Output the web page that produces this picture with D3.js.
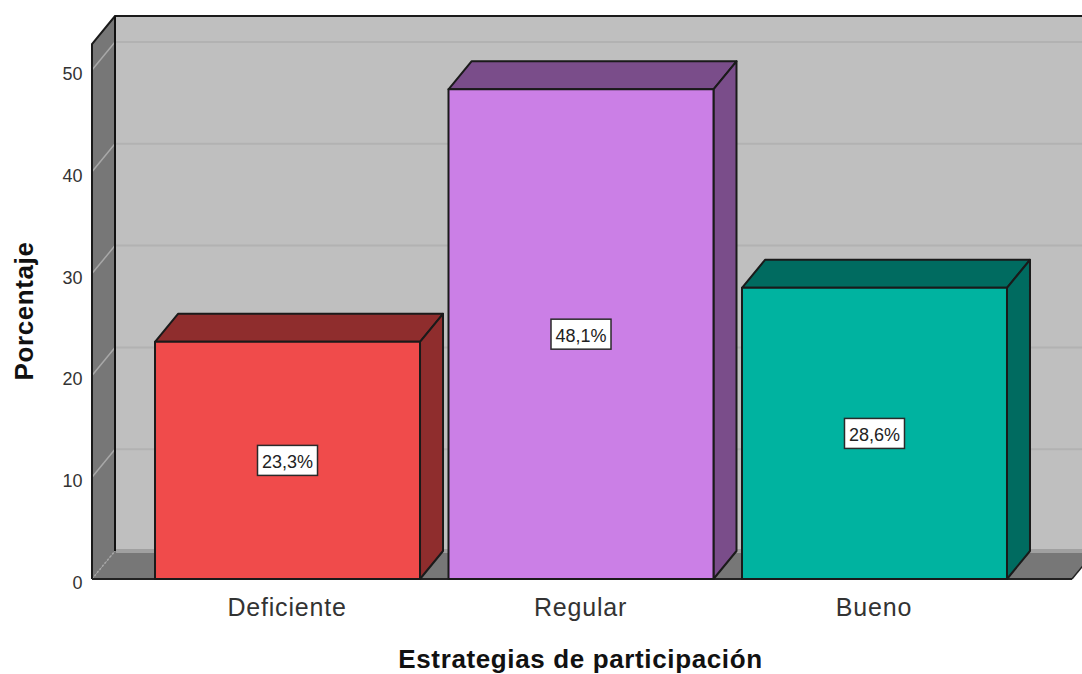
<!DOCTYPE html>
<html><head><meta charset="utf-8">
<script src="https://cdn.jsdelivr.net/npm/d3@7"></script>
<style>html,body{margin:0;padding:0;background:#fff}svg{display:block}text{font-family:"Liberation Sans",Arial,sans-serif}</style>
</head><body><div id="c"></div>
<script>
const categories=["Deficiente","Regular","Bueno"];
const values=[23.3,48.1,28.6];
const valueLabels=["23,3%","48,1%","28,6%"];
const frontColors=["#f04b4b","#cb7fe6","#00b3a0"];
const topColors=["#8f2d2d","#7a4d8a","#006b60"];
const yTicks=[0,10,20,30,40,50];
const xTitle="Estrategias de participación";
const yTitle="Porcentaje";

const W=1082,H=674,dx=23,dy=-28;
const y=d3.scaleLinear().domain([0,50]).range([579,70]);
const x=d3.scaleBand().domain(categories).range([140.75,1021.25]).paddingInner(0.0971).paddingOuter(0.0486);
const svg=d3.select("#c").append("svg").attr("width",W).attr("height",H);
const leftX=92,rightX=1072,topY=44;
const poly=(pts,fill,stroke,sw)=>svg.append("polygon").attr("points",pts.map(p=>p.join(",")).join(" ")).attr("fill",fill).attr("stroke",stroke||"none").attr("stroke-width",sw||0).attr("stroke-linejoin","round");

// back wall
svg.append("rect").attr("x",leftX+dx).attr("y",topY+dy).attr("width",W-leftX-dx+5).attr("height",y(0)-topY).attr("fill","#bfbfbf");
// left wall
poly([[leftX,topY],[leftX+dx,topY+dy],[leftX+dx,y(0)+dy],[leftX,y(0)]],"#777777");
// floor
poly([[leftX,y(0)],[leftX+dx,y(0)+dy],[rightX+dx,y(0)+dy],[rightX,y(0)]],"#777777");
svg.append("rect").attr("x",leftX+dx+1).attr("y",y(0)+dy-2).attr("width",W-leftX-dx).attr("height",4).attr("fill","#a0a0a0");
// gridlines
yTicks.forEach(t=>{
  if(t>0){
    svg.append("line").attr("x1",leftX+dx).attr("x2",W).attr("y1",y(t)+dy).attr("y2",y(t)+dy).attr("stroke","#b2b2b2").attr("stroke-width",2);
  }
  svg.append("line").attr("x1",leftX).attr("x2",leftX+dx).attr("y1",y(t)).attr("y2",y(t)+dy).attr("stroke","#a8a8a8").attr("stroke-width",1.5).attr("stroke-dasharray",t===0?"2,2":null);
});
// frame
svg.append("path").attr("d",`M${leftX},${y(0)}V${topY}L${leftX+dx},${topY+dy}H${W}`).attr("fill","none").attr("stroke","#1a1a1a").attr("stroke-width",2);
svg.append("line").attr("x1",leftX+dx).attr("x2",leftX+dx).attr("y1",topY+dy).attr("y2",y(0)+dy).attr("stroke","#111").attr("stroke-width",2);
svg.append("line").attr("x1",leftX).attr("x2",rightX).attr("y1",y(0)).attr("y2",y(0)).attr("stroke","#222").attr("stroke-width",2);
svg.append("line").attr("x1",rightX).attr("x2",rightX+dx).attr("y1",y(0)).attr("y2",y(0)+dy).attr("stroke","#222").attr("stroke-width",1.5);
// bars
categories.forEach((c,i)=>{
  const x0=x(c),x1=x0+x.bandwidth(),yt=y(values[i]),yb=y(0);
  const st="#1a1a1a",sw=2;
  poly([[x0,yt],[x0+dx,yt+dy],[x1+dx,yt+dy],[x1,yt]],topColors[i],st,sw);
  poly([[x1,yt],[x1+dx,yt+dy],[x1+dx,yb+dy],[x1,yb]],topColors[i],st,sw);
  poly([[x0,yt],[x1,yt],[x1,yb],[x0,yb]],frontColors[i],st,sw);
  const cx=(x0+x1)/2, cy=(yt+yb)/2;
  svg.append("rect").attr("x",cx-30).attr("y",cy-15).attr("width",60).attr("height",30).attr("fill","#fff").attr("stroke","#2a2a2a").attr("stroke-width",1.5);
  svg.append("text").attr("x",cx).attr("y",cy+7.5).attr("text-anchor","middle").attr("font-size",18).attr("fill","#222").text(valueLabels[i]);
  svg.append("text").attr("x",cx-0.5).attr("y",616).attr("text-anchor","middle").attr("font-size",25).attr("letter-spacing",0.8).attr("fill","#333").text(c);
});
// y tick labels
yTicks.forEach(t=>{
  svg.append("text").attr("x",82.5).attr("y",y(t)+10).attr("text-anchor","end").attr("font-size",18).attr("fill","#333").text(t);
});
svg.append("text").attr("x",580.5).attr("y",668).attr("text-anchor","middle").attr("font-size",26).attr("letter-spacing",0.63).attr("font-weight","bold").attr("fill","#111").text(xTitle);
svg.append("text").attr("transform","translate(33,311) rotate(-90)").attr("text-anchor","middle").attr("font-size",26).attr("letter-spacing",0.6).attr("font-weight","bold").attr("fill","#111").text(yTitle);
</script></body></html>
